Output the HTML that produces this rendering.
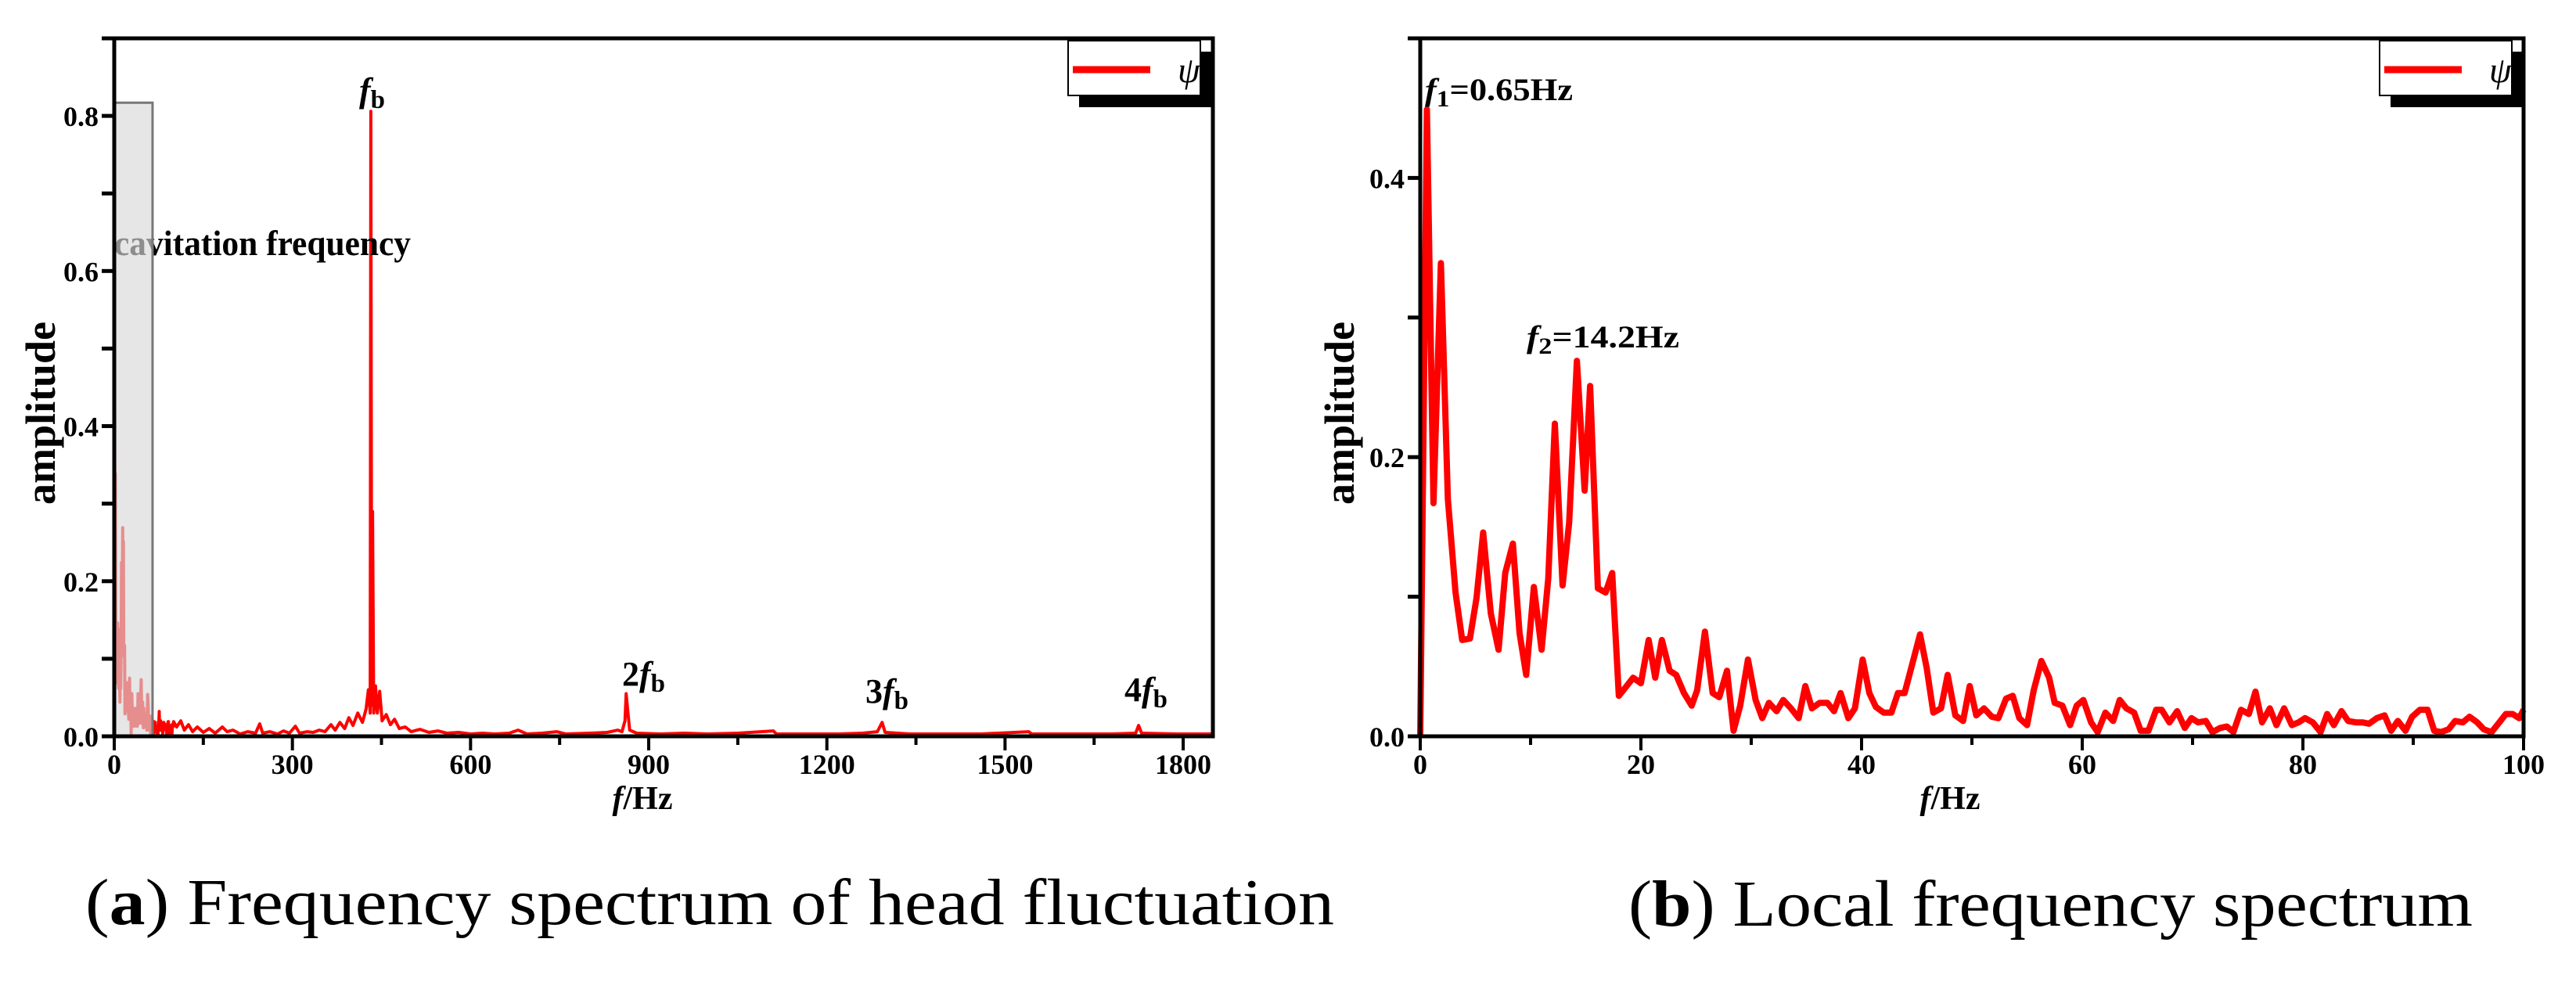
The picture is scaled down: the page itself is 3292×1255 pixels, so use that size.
<!DOCTYPE html>
<html><head><meta charset="utf-8"><style>
html,body{margin:0;padding:0;background:#fff;}
svg{display:block;font-family:"Liberation Serif",serif;}
</style></head><body>
<svg id="fig" width="3292" height="1255" viewBox="0 0 3292 1255" xmlns="http://www.w3.org/2000/svg">
<rect width="3292" height="1255" fill="#fff"/>
<g id="chartA"></g>
<g id="chartB"></g>
<text x="109" y="1181" font-size="84" textLength="1596" lengthAdjust="spacingAndGlyphs">(<tspan font-weight="bold">a</tspan>) Frequency spectrum of head fluctuation</text>
<text x="2081" y="1183" font-size="84" textLength="1079" lengthAdjust="spacingAndGlyphs">(<tspan font-weight="bold">b</tspan>) Local frequency spectrum</text>
</svg>
<script>
// ---- local spectrum data (chart b, also the low-frequency part of chart a)
const bFreq=[0,0.6,1.2,1.87,2.5,3.2,3.8,4.5,5.1,5.7,6.4,7.1,7.7,8.4,9.0,9.6,10.3,11,11.6,12.2,12.9,13.5,14.2,14.9,15.4,16.1,16.8,17.4,18,18.7,19.3,20,20.7,21.3,21.9,22.6,23.2,23.9,24.6,25.1,25.8,26.5,27.1,27.8,28.4,29,29.7,30.4,31,31.6,32.3,32.9,33.6,34.3,34.9,35.5,36.2,36.9,37.5,38.1,38.8,39.4,40.1,40.7,41.3,42,42.7,43.3,43.9,44.6,45.3,45.9,46.5,47.2,47.8,48.5,49.2,49.8,50.4,51.1,51.8,52.4,53.1,53.7,54.3,55,55.6,56.3,57,57.5,58.2,58.9,59.5,60.1,60.8,61.4,62.1,62.8,63.4,64,64.7,65.3,66,66.7,67.2,67.9,68.6,69.3,69.9,70.5,71.2,71.8,72.5,73.1,73.7,74.4,75.1,75.7,76.3,77,77.6,78.3,79,79.6,80.2,80.9,81.6,82.2,82.8,83.5,84.1,84.8,85.4,86,86.7,87.4,88,88.6,89.3,89.9,90.6,91.3,91.9,92.5,93.2,93.8,94.5,95.1,95.8,96.4,97.1,97.8,98.4,99,99.6,100];
const bAmp=[0,0.449,0.167,0.339,0.17,0.103,0.069,0.07,0.099,0.146,0.088,0.062,0.117,0.138,0.074,0.044,0.107,0.062,0.113,0.224,0.108,0.153,0.269,0.176,0.251,0.106,0.103,0.117,0.029,0.036,0.042,0.038,0.069,0.042,0.069,0.047,0.044,0.031,0.022,0.033,0.075,0.031,0.028,0.047,0.004,0.022,0.055,0.026,0.013,0.024,0.018,0.026,0.02,0.013,0.036,0.02,0.024,0.024,0.018,0.031,0.013,0.02,0.055,0.031,0.021,0.017,0.017,0.031,0.031,0.052,0.073,0.049,0.017,0.02,0.044,0.015,0.011,0.036,0.015,0.02,0.014,0.013,0.027,0.029,0.013,0.008,0.033,0.054,0.042,0.024,0.022,0.008,0.022,0.026,0.01,0.003,0.017,0.011,0.026,0.02,0.017,0.004,0.004,0.019,0.019,0.01,0.018,0.006,0.013,0.01,0.011,0.003,0.006,0.007,0.003,0.019,0.016,0.032,0.01,0.02,0.008,0.02,0.008,0.01,0.013,0.01,0.003,0.016,0.008,0.018,0.011,0.01,0.01,0.009,0.013,0.015,0.004,0.011,0.004,0.014,0.019,0.019,0.004,0.003,0.005,0.011,0.01,0.014,0.01,0.005,0.003,0.01,0.016,0.016,0.013,0.019];
// ---- high-frequency part of chart a
const aFreq=[105,112,118,125,132,140,150,160,170,182,190,200,212,225,238,245,250,262,275,285,295,305,312,325,335,345,355,365,372,380,388,395,402,410,418,424,428,431,432,433.5,435,437,440,443,447,451,458,465,472,480,490,500,515,530,545,560,580,600,620,640,665,680,695,720,745,760,800,830,848,855,860,862,865,868,880,920,960,1000,1050,1110,1115,1170,1220,1260,1285,1293,1298,1340,1400,1460,1540,1545,1600,1680,1720,1725,1730,1790,1850];
const aAmp=[0.012,0.02,0.008,0.015,0.006,0.012,0.005,0.01,0.004,0.012,0.006,0.008,0.003,0.006,0.004,0.016,0.004,0.006,0.003,0.007,0.004,0.013,0.004,0.006,0.005,0.008,0.006,0.015,0.008,0.018,0.01,0.024,0.014,0.03,0.018,0.035,0.06,0.03,0.806,0.04,0.29,0.03,0.065,0.03,0.058,0.02,0.028,0.015,0.022,0.01,0.012,0.006,0.009,0.005,0.007,0.004,0.005,0.003,0.004,0.003,0.004,0.008,0.003,0.004,0.006,0.003,0.004,0.005,0.008,0.006,0.02,0.055,0.03,0.008,0.004,0.003,0.004,0.003,0.004,0.007,0.003,0.003,0.003,0.004,0.006,0.018,0.005,0.003,0.003,0.003,0.006,0.003,0.003,0.003,0.004,0.014,0.004,0.003,0.003];
const aXTicks=[0,300,600,900,1200,1500,1800];
const aYTicks=[0.0,0.2,0.4,0.6,0.8];
const bXTicks=[0,20,40,60,80,100];
const bYTicks=[0.0,0.2,0.4];

const NS="http://www.w3.org/2000/svg";
function mk(parent,tag,attrs,text){const e=document.createElementNS(NS,tag);for(const k in attrs)e.setAttribute(k,attrs[k]);if(text!==undefined)e.textContent=text;parent.appendChild(e);return e;}

function drawChart(g,cfg){
  const {L,R,T,B,xmax,ymax,xt,xminor,yt,yminor,lw}=cfg;
  const sx=v=>L+(v/xmax)*(R-L), sy=v=>B-(v/ymax)*(B-T);
  const pts=cfg.fx.map((f,i)=>sx(f).toFixed(1)+','+sy(cfg.fy[i]).toFixed(1)).join(' ');
  const line=mk(g,'polyline',{points:pts,fill:'none',stroke:'#ff0000','stroke-width':lw,'stroke-linejoin':'round'});
  
  
  if(cfg.cavText){
    const cav=mk(g,'text',{x:146,y:326,'font-size':46,'font-weight':'bold',textLength:379,lengthAdjust:'spacingAndGlyphs'},'cavitation frequency');
    
    
  }
  if(cfg.rect){
    const r=mk(g,'rect',{x:sx(0),y:sy(cfg.rect.h),width:sx(cfg.rect.f)-sx(0),height:sy(0)-sy(cfg.rect.h),fill:'#d8d8d8','fill-opacity':0.65,stroke:'#777','stroke-width':3});
    
    
  }
  const fr=mk(g,'rect',{x:L,y:T,width:R-L,height:B-T,fill:'none',stroke:'#000','stroke-width':5});
  
  
  xt.forEach(v=>{
    mk(g,'line',{x1:sx(v),x2:sx(v),y1:B,y2:B+18,stroke:'#000','stroke-width':4});
    const t=mk(g,'text',{x:sx(v),y:B+48,'font-size':36,'font-weight':'bold','text-anchor':'middle'},String(v));
    
    
  });
  for(let v=xminor;v<xmax;v+=xminor*2){mk(g,'line',{x1:sx(v),x2:sx(v),y1:B,y2:B+11,stroke:'#000','stroke-width':4});}
  yt.forEach(v=>{
    mk(g,'line',{x1:L-16,x2:L,y1:sy(v),y2:sy(v),stroke:'#000','stroke-width':5});
    const t=mk(g,'text',{x:L-20,y:sy(v)+13,'font-size':36,'font-weight':'bold','text-anchor':'end'},v.toFixed(1));
    
    
  });
  for(let v=yminor;v<=ymax+1e-9;v+=yminor*2){mk(g,'line',{x1:L-16,x2:L,y1:sy(v),y2:sy(v),stroke:'#000','stroke-width':5});}
  const yt2=mk(g,'text',{x:0,y:0,'font-size':54,'font-weight':'bold','text-anchor':'middle',transform:`translate(${cfg.ytx},528) rotate(-90)`},'amplitude');
  
  
  const xt2=mk(g,'text',{x:(L+R)/2+cfg.xtOff,y:1034,'font-size':42,'font-weight':'bold','text-anchor':'middle'});
  
  
  mk(xt2,'tspan',{'font-style':'italic'},'f');
  mk(xt2,'tspan',{},'/Hz');
  const lg=mk(g,'g',{});
  
  
  const bx=cfg.legX;
  mk(lg,'rect',{x:bx+14,y:66,width:171,height:71,fill:'#000'});
  mk(lg,'rect',{x:bx,y:52,width:169,height:70,fill:'#fff',stroke:'#000','stroke-width':2});
  mk(lg,'line',{x1:bx+6,x2:bx+105,y1:89,y2:89,stroke:'#ff0000','stroke-width':9});
  mk(lg,'text',{x:bx+140,y:105,'font-size':46,'font-style':'italic'},'ψ');
  return {sx,sy};
}

const gA=document.getElementById('chartA');
const aFx=bFreq.concat(aFreq), aFy=bAmp.concat(aAmp);
drawChart(gA,{L:146,R:1550,T:49,B:941,xmax:1850,ymax:0.9,xt:aXTicks,xminor:150,yt:aYTicks,yminor:0.1,lw:4,fx:aFx,fy:aFy,rect:{f:64.5,h:0.817},cavText:true,ytx:70,xtOff:-27,legX:1365});
function note(g,x,y,pre,sub,post,size,len){
  const t=mk(g,'text',{x:x,y:y,'font-size':size,'font-weight':'bold'});
  
  
  if(len){t.setAttribute('textLength',len);t.setAttribute('lengthAdjust','spacingAndGlyphs');}
  if(pre)mk(t,'tspan',{},pre);
  mk(t,'tspan',{'font-style':'italic'},'f');
  mk(t,'tspan',{'font-size':size*0.75,dy:8},sub);
  if(post)mk(t,'tspan',{dy:-8},post);
}
note(gA,459,130,'','b','',44);
note(gA,795,876,'2','b','',44);
note(gA,1106,898,'3','b','',44);
note(gA,1437,896,'4','b','',44);

const gB=document.getElementById('chartB');
drawChart(gB,{L:1815,R:3225,T:49,B:941,xmax:100,ymax:0.5,xt:bXTicks,xminor:10,yt:bYTicks,yminor:0.1,lw:8,fx:bFreq,fy:bAmp,ytx:1730,xtOff:-28,legX:3041});
note(gB,1821,128,'','1','=0.65Hz',40,189);
note(gB,1951,444,'','2','=14.2Hz',40,195);
</script>
</body></html>
